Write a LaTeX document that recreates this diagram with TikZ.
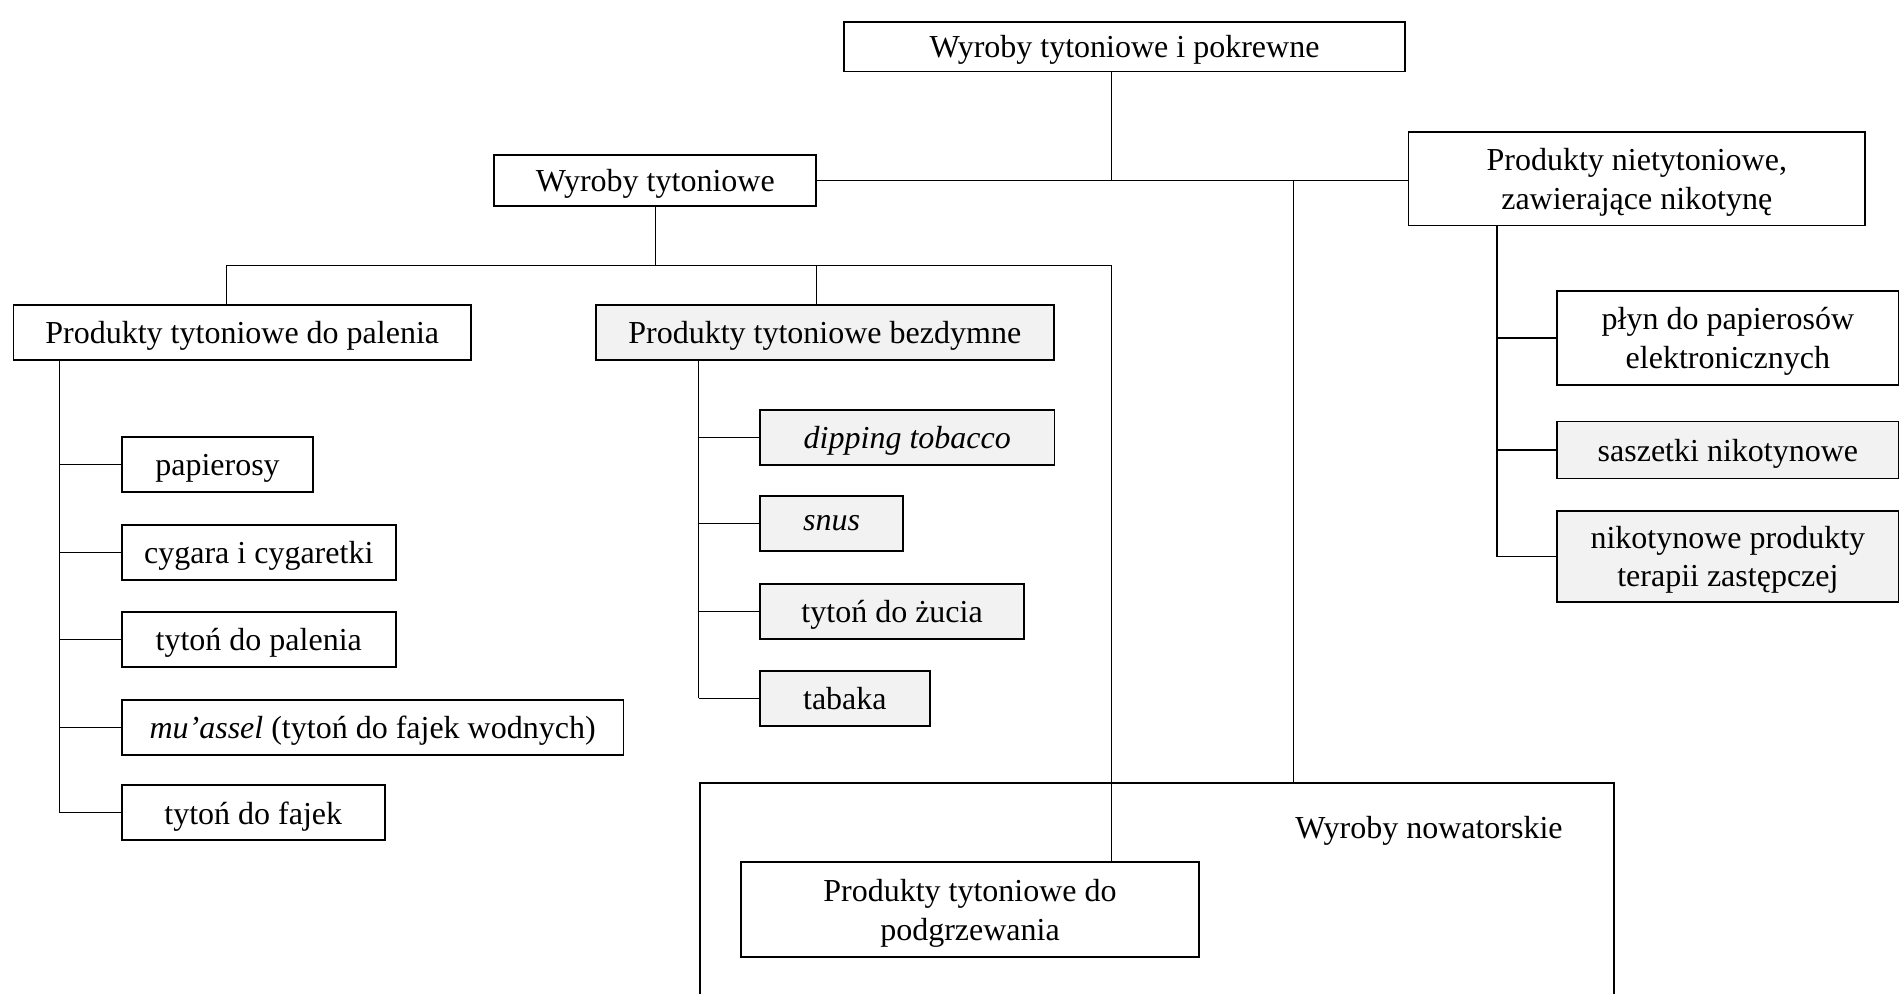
\documentclass[tikz,border=0pt]{standalone}
\usepackage{fontspec}
\setmainfont{Liberation Serif}
\begin{document}
\begin{tikzpicture}[x=1pt, y=-1pt,
    box/.style={draw, line width=0.7pt, inner sep=0pt, align=center, text depth=0pt,
        minimum height=22pt, font=\fontsize{12.8}{15.5}\selectfont},
    greybox/.style={box, fill=boxgrey},
    link/.style={line width=0.5pt}]
    % Define colors
    \definecolor{boxgrey}{RGB}{242,242,242}
    \useasboundingbox (0,0) rectangle (759.6,397.2);

    % Frame of the novel products
    \node[draw, line width=0.7pt, inner sep=0pt, anchor=north west,
        minimum width=365.8pt, minimum height=95pt] (nowe) at (279.5,312.9) {};
    \node[font=\fontsize{12.8}{15.5}\selectfont] (nowelbl) at (571.6,332.4) {Wyroby nowatorskie};

    % Top levels
    \node[box, minimum width=224.3pt, minimum height=19.9pt] (root) at (449.8,18.6) {Wyroby tytoniowe i pokrewne};
    \node[box, minimum width=128.8pt, minimum height=20.4pt] (tyt) at (262.1,72.2) {Wyroby tytoniowe};
    \node[box, minimum width=182.6pt, minimum height=37.3pt] (nietyt) at (654.7,71.5) {Produkty nietytoniowe,\\ zawierające nikotynę};
    \node[box, minimum width=183.1pt] (palenie) at (96.9,133.0) {Produkty tytoniowe do palenia};
    \node[greybox, minimum width=183.1pt] (bezdym) at (329.9,133.0) {Produkty tytoniowe bezdymne};
    \node[box, minimum width=183.1pt, minimum height=37.8pt] (podgrz) at (388.0,363.8) {Produkty tytoniowe do\\ podgrzewania};

    % Smoking products
    \node[box, anchor=west, minimum width=76.5pt] (papierosy) at (48.4,185.8) {papierosy};
    \node[box, anchor=west, minimum width=109.5pt] (cygara) at (48.4,221.1) {cygara i cygaretki};
    \node[box, anchor=west, minimum width=109.5pt] (tytpal) at (48.4,255.8) {tytoń do palenia};
    \node[box, anchor=west, minimum width=200.6pt] (muassel) at (48.4,290.9) {\textit{mu’assel} (tytoń do fajek wodnych)};
    \node[box, anchor=west, minimum width=105.1pt] (fajki) at (48.4,325.1) {tytoń do fajek};

    % Smokeless products
    \node[greybox, anchor=west, minimum width=117.7pt] (dipping) at (303.7,174.9) {\textit{dipping tobacco}};
    \node[greybox, anchor=west, minimum width=57.2pt] (snus) at (303.7,209.3) {\textit{snus}};
    \node[greybox, anchor=west, minimum width=105.6pt] (zucie) at (303.7,244.6) {tytoń do żucia};
    \node[greybox, anchor=west, minimum width=67.8pt] (tabaka) at (303.7,279.3) {tabaka};

    % Non-tobacco products
    \node[box, anchor=west, minimum width=136.6pt, minimum height=37.8pt] (plyn) at (622.5,135.2) {płyn do papierosów\\ elektronicznych};
    \node[greybox, anchor=west, minimum width=136.6pt, minimum height=22.8pt] (saszetki) at (622.5,180.0) {saszetki nikotynowe};
    \node[greybox, anchor=west, minimum width=136.6pt, minimum height=36.3pt] (terapia) at (622.5,222.6) {nikotynowe produkty\\ terapii zastępczej};

    % Connectors between levels
    \coordinate (rootdown) at (444.7,72.2);
    \coordinate (novdown) at (517.4,72.2);
    \coordinate (busL) at (90.6,106.1);
    \coordinate (busM) at (326.5,106.1);
    \coordinate (busR) at (444.7,106.1);
    \draw[link] (root.south -| rootdown) -- (rootdown);
    \draw[link] (tyt.east) -- (tyt.east -| nietyt.west);
    \draw[link] (novdown) -- (novdown |- nowe.north);
    \draw[link] (tyt.south) -- (tyt.south |- busL);
    \draw[link] (busL |- palenie.north) -- (busL) -- (busR) -- (busR |- podgrz.north);
    \draw[link] (busM) -- (busM |- bezdym.north);

    % Spines with branches
    \coordinate (spinePal) at (23.7,0);
    \coordinate (spineBez) at (279.5,0);
    \coordinate (spineNik) at (598.8,0);
    \draw[link] (palenie.south -| spinePal) -- (spinePal |- fajki.west);
    \draw[link] (bezdym.south -| spineBez) -- (spineBez |- tabaka.west);
    \draw[link] (nietyt.south -| spineNik) -- (spineNik |- terapia.west);
    \foreach \n in {papierosy,cygara,tytpal,muassel,fajki}
        \draw[link] (spinePal |- \n.west) -- (\n.west);
    \foreach \n in {dipping,snus,zucie,tabaka}
        \draw[link] (spineBez |- \n.west) -- (\n.west);
    \foreach \n in {plyn,saszetki,terapia}
        \draw[link] (spineNik |- \n.west) -- (\n.west);
\end{tikzpicture}
\end{document}
